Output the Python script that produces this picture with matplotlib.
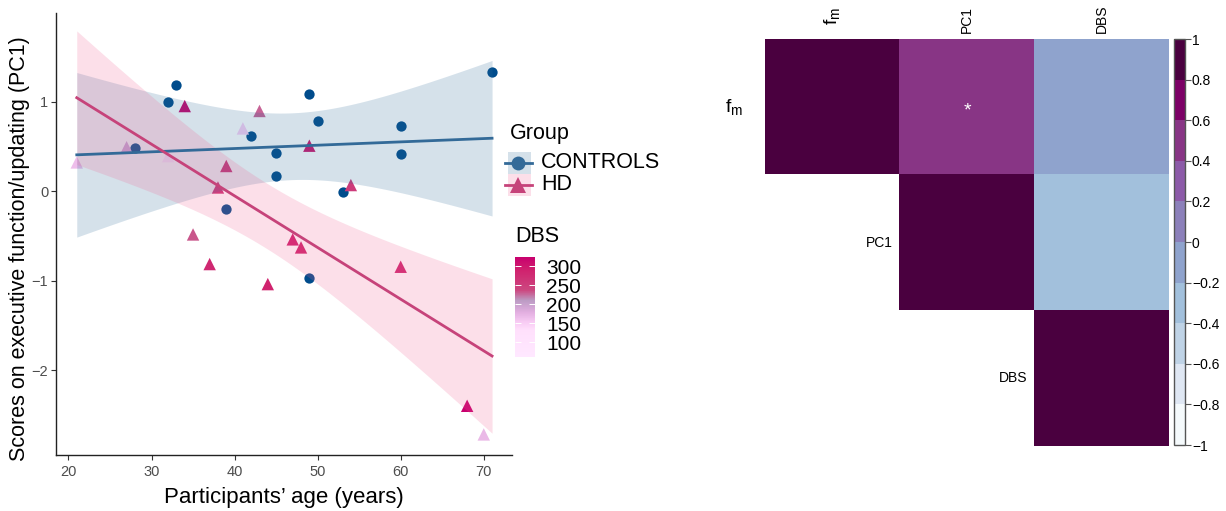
import numpy as np
import matplotlib
matplotlib.use('Agg')
import matplotlib.pyplot as plt
from matplotlib.colors import LinearSegmentedColormap, ListedColormap, BoundaryNorm, Normalize

plt.rcParams['font.family'] = ['Liberation Sans', 'DejaVu Sans']
plt.rcParams['mathtext.fontset'] = 'custom'
plt.rcParams['mathtext.rm'] = 'Liberation Sans'

W, H = 1226, 511

# --- scatter data ---
ctrl_age = [28, 32, 33, 39, 42, 45, 45, 49, 49, 50, 53, 60, 60, 71]
ctrl_pc1 = [0.48, 1.00, 1.185, -0.20, 0.61, 0.42, 0.17, 1.085, -0.977, 0.786, -0.015, 0.727, 0.41, 1.33]

hd_age = [21, 27, 32, 34, 35, 37, 38, 39, 41, 43, 44, 47, 48, 49, 54, 60, 68, 70]
hd_pc1 = [0.32, 0.49, 0.39, 0.95, -0.485, -0.816, 0.04, 0.28, 0.70, 0.895, -1.04, -0.54, -0.63, 0.507,
          0.067, -0.846, -2.40, -2.72]
hd_dbs = [165, 185, 62, 318, 232, 280, 262, 272, 150, 228, 288, 290, 285, 300, 255, 280, 324, 170]

# --- correlation matrix (upper triangle) ---
corr_labels = [r'$\mathregular{f_m}$', 'PC1', 'DBS']
corr_vals = [[1.0, 0.50, -0.12],
             [np.nan, 1.0, -0.31],
             [np.nan, np.nan, 1.0]]
corr_signif = [(0, 1)]

# 95% t quantiles by degrees of freedom
t95 = {12: 2.1788, 16: 2.1199}

ctrl_col = '#004C8C'
ctrl_line = '#336A98'
ctrl_band = '#2F6B9A'
hd_line = '#C6437A'
hd_band = '#F06292'

dbs_cmap = LinearSegmentedColormap.from_list('dbs', [
    (0.0, '#FFE8FF'), (0.267, '#FFE0FC'), (0.347, '#F8CCF4'), (0.447, '#E2AEE0'),
    (0.565, '#BC9CC4'), (0.668, '#CC4880'), (0.866, '#D0226E'), (1.0, '#C8006E')])

corr_cmap = ListedColormap(['#F5FAFC', '#DFE7F3', '#BFD3E6', '#A2C0DC', '#8FA3CD',
                            '#8C80BA', '#8C5AA8', '#883585', '#7C0066', '#4A003F'])
corr_bounds = np.linspace(-1, 1, 11)


def fit_band(x, y, xs):
  x = np.asarray(x, float)
  y = np.asarray(y, float)
  n = len(x)
  b, a = np.polyfit(x, y, 1)
  resid = y - (a + b * x)
  s = np.sqrt(np.sum(resid ** 2) / (n - 2))
  sxx = np.sum((x - x.mean()) ** 2)
  se = s * np.sqrt(1.0 / n + (xs - x.mean()) ** 2 / sxx)
  fit = a + b * xs
  t = t95[n - 2]
  return fit, fit - t * se, fit + t * se


def fmt_tick(v):
  s = ('%g' % round(v, 1))
  return s.replace('-', '\u2212')


fig = plt.figure(figsize=(W / 100, H / 100), dpi=100)

# ---------------- left: scatter + regression ----------------
ax = fig.add_axes([56 / W, 1 - 455 / H, 456 / W, 442 / H])
ax.scatter(ctrl_age, ctrl_pc1, s=55, color=ctrl_col, marker='o', linewidths=0, zorder=2)
dnorm = Normalize(vmin=min(hd_dbs), vmax=max(hd_dbs))
ax.scatter(hd_age, hd_pc1, s=80, c=hd_dbs, cmap=dbs_cmap, norm=dnorm, marker='^',
           linewidths=0, zorder=2)

xmin = min(ctrl_age + hd_age)
xmax = max(ctrl_age + hd_age)
xs = np.linspace(xmin, xmax, 200)
groups = [(ctrl_age, ctrl_pc1, ctrl_line, ctrl_band), (hd_age, hd_pc1, hd_line, hd_band)]
fits = [fit_band(xa, ya, xs) for xa, ya, _, _ in groups]
for (fit, lo, hi), (_, _, lc, bc) in zip(fits, groups):
  ax.fill_between(xs, lo, hi, color=bc, alpha=0.2, linewidth=0, zorder=3)
for (fit, lo, hi), (_, _, lc, bc) in zip(fits, groups):
  ax.plot(xs, fit, color=lc, lw=2.0, zorder=4)

ax.set_xlim(18.5, 73.4)
ax.set_ylim(-2.95, 1.99)
ax.set_xticks([20, 30, 40, 50, 60, 70])
ax.set_yticks([-2, -1, 0, 1])
ax.set_yticklabels(['\u22122', '\u22121', '0', '1'])
for sp in ['top', 'right']:
  ax.spines[sp].set_visible(False)
for sp in ['left', 'bottom']:
  ax.spines[sp].set_color('#222222')
  ax.spines[sp].set_linewidth(1.0)
ax.tick_params(length=3.5, width=0.8, color='#333333', labelcolor='#4D4D4D', labelsize=10.5)
ax.tick_params(axis='y', pad=2)

fig.text(20 / W, 1 - 249 / H, 'Scores on executive function/updating (PC1)', rotation=90,
         ha='center', va='center', fontsize=15.5)
fig.text(284 / W, 1 - 498 / H, 'Participants\u2019 age (years)', ha='center', va='center', fontsize=16)

# ---------------- legend ----------------
lax = fig.add_axes([0, 0, 1, 1], facecolor='none')
lax.set_xlim(0, W)
lax.set_ylim(H, 0)
lax.axis('off')
lax.text(510, 133, 'Group', fontsize=15.5, va='center', ha='left')
keys = [('CONTROLS', ctrl_line, ctrl_band, 'o', 163), ('HD', hd_line, hd_band, '^', 185)]
for name, lc, bc, mk, yc in keys:
  lax.add_patch(plt.Rectangle((508, yc - 11), 23, 22, color=bc, alpha=0.2, lw=0))
  lax.plot([505, 532], [yc, yc], color=lc, lw=2.0)
  lax.plot([518], [yc], marker=mk, ms=10 if mk == 'o' else 11, color=lc, mew=0)
  lax.text(541, yc, name, fontsize=15.5, va='center', ha='left')
lax.text(515, 236, 'DBS', fontsize=15.5, va='center', ha='left')

cax = fig.add_axes([515 / W, 1 - 357 / H, 20 / W, 100 / H])
cb = fig.colorbar(plt.cm.ScalarMappable(norm=dnorm, cmap=dbs_cmap), cax=cax)
cb.outline.set_visible(False)
cb.set_ticks([100, 150, 200, 250, 300])
cax.tick_params(length=4, width=0.7, color='white', direction='in', labelsize=15, pad=8)
cax.tick_params(left=True, right=True)

# ---------------- right: correlation heatmap ----------------
hax = fig.add_axes([765 / W, 1 - 446 / H, 404 / W, 407 / H])
cm = np.ma.masked_invalid(np.array(corr_vals))
cnorm = BoundaryNorm(corr_bounds, corr_cmap.N)
hax.imshow(cm, cmap=corr_cmap, norm=cnorm, extent=(-0.5, 2.5, 2.5, -0.5),
           aspect='auto', interpolation='nearest')
hax.set_xlim(-0.5, 2.5)
hax.set_ylim(2.5, -0.5)
hax.axis('off')
for i, lab in enumerate(corr_labels):
  big = lab.startswith('$')
  hax.annotate(lab, xy=(i, -0.5), xytext=(0, 10 if big else 4), textcoords='offset points',
               rotation=90, ha='center', va='bottom', fontsize=14 if big else 10)
  hax.annotate(lab, xy=(i - 0.5, i), xytext=(-16 if big else -5, 0), textcoords='offset points',
               ha='right', va='center', fontsize=14 if big else 10)
for r, c in corr_signif:
  hax.text(c, r + 0.03, '*', color='white', ha='center', va='center', fontsize=14)

ccax = fig.add_axes([1174 / W, 1 - 445 / H, 11 / W, 406 / H])
ccb = fig.colorbar(plt.cm.ScalarMappable(norm=cnorm, cmap=corr_cmap), cax=ccax)
ccb.outline.set_edgecolor('#555555')
ccb.outline.set_linewidth(1.0)
ccb.set_ticks(corr_bounds)
ccb.set_ticklabels([fmt_tick(v) for v in corr_bounds])
ccax.tick_params(length=4, width=0.8, color='#555555', labelsize=10, pad=1)

fig.savefig('out.png', dpi=100)
